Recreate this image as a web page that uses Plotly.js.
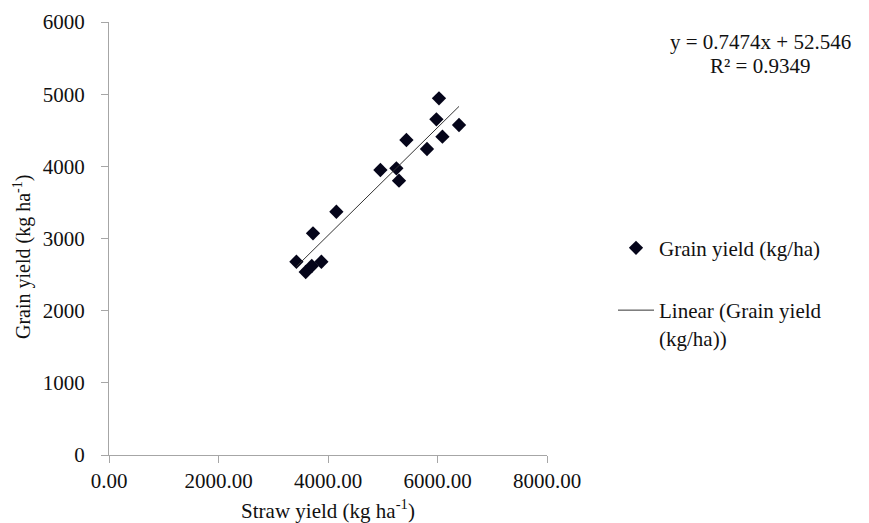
<!DOCTYPE html>
<html>
<head>
<meta charset="utf-8">
<script src="https://cdn.plot.ly/plotly-3.0.1.min.js"></script>
<style>html,body{margin:0;padding:0;background:#fff;}#chart{width:869px;height:523px;}</style>
</head>
<body>
<div id="chart"></div>
<script>
// Data
const strawYield = [6027, 5980, 6393, 6090, 5432, 5808, 4957, 5249, 5297, 4153, 3726, 3423, 3593, 3703, 3879];
const grainYield = [4943, 4652, 4573, 4411, 4365, 4240, 3949, 3973, 3801, 3371, 3072, 2678, 2536, 2619, 2678];
const slope = 0.7474;
const intercept = 52.546;
const rSquared = 0.9349;
const xTicks = [0, 2000, 4000, 6000, 8000];
const xTickLabels = ["0.00", "2000.00", "4000.00", "6000.00", "8000.00"];
const yTicks = [0, 1000, 2000, 3000, 4000, 5000, 6000];

const xMin = Math.min(...strawYield), xMax = Math.max(...strawYield);
const trendX = [xMin, xMax];
const trendY = trendX.map(v => slope * v + intercept);

const font = "'Liberation Serif', 'Times New Roman', serif";
const fs = 21;
const txt = {family: font, size: fs, color: "#111"};

const traces = [
  {
    x: strawYield, y: grainYield, type: "scatter", mode: "markers",
    name: "Grain yield (kg/ha)", legendgroup: "a",
    marker: {symbol: "diamond", size: 11, color: "#05051a"}
  },
  {
    x: trendX, y: trendY, type: "scatter", mode: "lines",
    name: "Linear (Grain yield<br>(kg/ha))", legendgroup: "b",
    line: {color: "#333333", width: 1}
  }
];

const W = 438, H = 433, L = 109, T = 22;
const layout = {
  width: 869, height: 523,
  margin: {l: L, r: 869 - L - W, t: T, b: 523 - T - H, pad: 0},
  paper_bgcolor: "#fff", plot_bgcolor: "#fff",
  font: txt,
  showlegend: true,
  legend: {x: (613 - L) / W, y: 0.525, xanchor: "left", yanchor: "top",
           font: txt, itemwidth: 36, valign: "top",
           traceorder: "grouped", tracegroupgap: 32, bgcolor: "rgba(0,0,0,0)"},
  xaxis: {
    range: [0, 8000], tickvals: xTicks, ticktext: xTickLabels,
    showgrid: false, zeroline: false, showline: true, linecolor: "#a6a6a6", linewidth: 1,
    ticks: "outside", ticklen: 7, tickcolor: "#a6a6a6", ticklabelstandoff: 0,
    tickfont: txt,
    title: {text: "Straw yield (kg ha<sup>-1</sup>)", font: txt, standoff: 12}
  },
  yaxis: {
    range: [0, 6000], tickvals: yTicks,
    showgrid: false, zeroline: false, showline: true, linecolor: "#a6a6a6", linewidth: 1,
    ticks: "outside", ticklen: 7, tickcolor: "#a6a6a6", ticklabelstandoff: 12,
    tickfont: txt
  },
  annotations: [
    {xref: "paper", yref: "paper", x: (760 - L) / W, y: (T + H - 42) / H,
     xanchor: "center", yanchor: "middle", showarrow: false,
     text: "y = " + slope + "x + " + intercept, font: txt},
    {xref: "paper", yref: "paper", x: (760 - L) / W, y: (T + H - 66) / H,
     xanchor: "center", yanchor: "middle", showarrow: false,
     text: "R² = " + rSquared, font: txt},
    {xref: "paper", yref: "paper", x: (22 - L) / W, y: (T + H - 257) / H,
     xanchor: "center", yanchor: "middle", showarrow: false, textangle: -90,
     text: "Grain yield (kg ha<sup>-1</sup>)", font: {family: font, size: 20, color: "#111"}}
  ]
};

Plotly.newPlot("chart", traces, layout, {displayModeBar: false, staticPlot: true});
</script>
</body>
</html>
